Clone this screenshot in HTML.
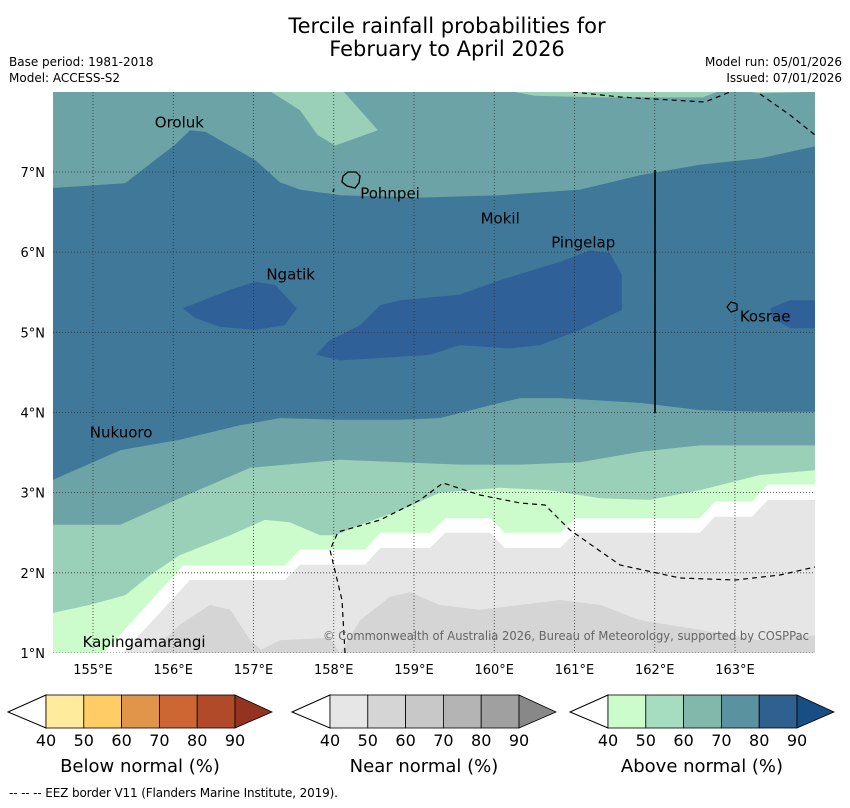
<!DOCTYPE html>
<html><head><meta charset="utf-8"><style>
body{margin:0;background:#fff;width:850px;height:804px;overflow:hidden;font-family:"DejaVu Sans","Liberation Sans",sans-serif}
svg text{font-family:"DejaVu Sans","Liberation Sans",sans-serif}
</style></head><body>
<svg id="chart" width="850" height="804" xmlns="http://www.w3.org/2000/svg">
<text x="447" y="33" font-size="21" text-anchor="middle">Tercile rainfall probabilities for</text>
<text x="447" y="56" font-size="21" text-anchor="middle">February to April 2026</text>
<text x="9" y="66" font-size="12">Base period: 1981-2018</text>
<text x="9" y="82" font-size="12">Model: ACCESS-S2</text>
<text x="842" y="66" font-size="12" text-anchor="end">Model run: 05/01/2026</text>
<text x="842" y="82" font-size="12" text-anchor="end">Issued: 07/01/2026</text>
<defs><clipPath id="mapclip"><rect x="53" y="92" width="762" height="561"/></clipPath></defs>
<g id="map" clip-path="url(#mapclip)"></g>
<g id="overlay"></g>
<g id="legend"></g>
<text x="9" y="797" font-size="12" textLength="329">--  --  -- EEZ border V11 (Flanders Marine Institute, 2019).</text>
</svg>
<script>
const lonTicks=[155,156,157,158,159,160,161,162,163];
const latTicks=[1,2,3,4,5,6,7];
const zoneNames=['above-60-70','above-50-60-top','above-70-80','above-80-90-west','above-80-90-central','above-80-90-east','above-50-60-south','above-40-50','below-40-white','near-40-50','near-50-60-west','near-50-60-mid','near-50-60-east'];
const zoneColors=['#6ba3a6','#9bd0b8','#3f7898','#2f6098','#2f6098','#2f6098','#9bd0b8','#ccfccc','#ffffff','#e6e6e6','#d5d5d5','#d5d5d5','#d5d5d5'];
const zoneBase=[[154.5,1],[164,1],[164,8],[154.5,8]];
const zoneTop=[[157.14,8.05],[157.58,7.77],[157.80,7.46],[158.02,7.33],[158.55,7.52],[158.33,7.77],[158.08,8.05],[160.0,8.05],[160.5,7.95],[161.3,7.93],[162.6,7.93],[162.9,8.05],[163.3,7.98],[164,8.0],[164,8.05]];
const zoneBlue=[[154.5,6.80],[155.40,6.86],[156.02,7.34],[156.21,7.52],[156.40,7.50],[157.02,7.15],[157.33,6.87],[157.58,6.78],[158.08,6.71],[159.07,6.68],[160.07,6.71],[161.07,6.78],[161.82,6.96],[162.56,7.09],[163.31,7.17],[164,7.32],[164,4.01],[163.31,4.01],[162.56,4.03],[161.82,4.12],[160.82,4.18],[160.32,4.18],[159.95,4.09],[159.32,3.93],[158.83,3.91],[158.08,3.91],[157.33,3.93],[156.83,3.84],[156.08,3.66],[155.34,3.53],[154.5,3.16]];
const zoneDeepW=[[156.12,5.30],[156.71,5.53],[157.02,5.63],[157.27,5.59],[157.54,5.30],[157.39,5.09],[157.02,5.03],[156.58,5.07],[156.27,5.18]];
const zoneDeepC=[[157.78,4.72],[157.95,4.90],[158.33,5.09],[158.58,5.34],[158.83,5.40],[159.57,5.47],[160.07,5.65],[160.82,5.88],[161.19,6.02],[161.44,5.99],[161.59,5.72],[161.59,5.28],[161.07,5.03],[160.57,4.84],[160.20,4.80],[159.57,4.84],[159.20,4.72],[158.58,4.68],[158.08,4.65]];
const zoneDeepE=[[163.44,5.30],[163.69,5.40],[164,5.40],[164,5.05],[163.69,5.05],[163.46,5.18]];
const zoneMid=[[154.5,2.60],[155.34,2.60],[156.08,2.93],[156.96,3.31],[158.08,3.41],[158.83,3.38],[159.57,3.35],[160.32,3.35],[161.07,3.38],[161.82,3.51],[162.56,3.59],[163.31,3.59],[164,3.59],[164,1],[154.5,1]];
const zoneLight=[[154.5,1.50],[154.96,1.60],[155.40,1.72],[155.71,1.97],[156.08,2.22],[156.71,2.47],[157.14,2.66],[157.45,2.63],[157.83,2.47],[158.02,2.47],[158.33,2.60],[158.83,2.78],[159.32,3.0],[160.07,3.06],[160.69,3.03],[161.32,2.93],[161.94,2.91],[162.56,3.03],[163.31,3.22],[164,3.28],[164,1],[154.5,1]];
const zoneWhite=[[155.13,1],[156.12,2.09],[157.39,2.09],[157.58,2.29],[158.39,2.29],[158.58,2.50],[159.20,2.50],[159.39,2.68],[159.95,2.68],[160.13,2.50],[160.82,2.50],[161.01,2.68],[162.56,2.68],[162.75,2.89],[163.21,2.89],[163.41,3.10],[164,3.10],[164,1]];
const zoneNear=[[155.37,1],[156.21,1.91],[157.39,1.91],[157.58,2.10],[158.39,2.10],[158.58,2.31],[159.20,2.31],[159.39,2.50],[159.95,2.50],[160.13,2.31],[160.82,2.31],[161.01,2.50],[162.56,2.50],[162.75,2.70],[163.21,2.70],[163.41,2.91],[164,2.91],[164,1]];
const zoneNearW=[[155.71,1],[156.08,1.35],[156.46,1.60],[156.71,1.54],[156.96,1.16],[157.14,1]];
const zoneNearM=[[157.02,1],[157.33,1.16],[157.95,1.19],[158.08,1]];
const zoneNearE=[[158.08,1],[158.33,1.41],[158.70,1.70],[158.95,1.76],[159.32,1.60],[159.82,1.54],[160.32,1.60],[160.82,1.66],[161.32,1.60],[161.82,1.41],[162.56,1.29],[163.31,1.16],[164,1.22],[164,1]];
const zones=[zoneBase,zoneTop,zoneBlue,zoneDeepW,zoneDeepC,zoneDeepE,zoneMid,zoneLight,zoneWhite,zoneNear,zoneNearW,zoneNearM,zoneNearE];
const places=['Oroluk','Pohnpei','Mokil','Pingelap','Ngatik','Kosrae','Nukuoro','Kapingamarangi'];
const placeLon=[155.77,158.33,159.83,160.71,157.16,163.06,154.96,154.87];
const placeLat=[7.62,6.73,6.42,6.12,5.72,5.20,3.75,1.14];

const NS='http://www.w3.org/2000/svg';
function xS(lon){return 93+(lon-155)*80.25;}
function yS(lat){return 653-(lat-1)*80.17;}
function mk(tag,attrs,parent){const e=document.createElementNS(NS,tag);for(const k in attrs)e.setAttribute(k,attrs[k]);parent.appendChild(e);return e;}
const map=document.getElementById('map');
zones.forEach((z,i)=>{
  const p=mk('polygon',{points:z.map(q=>xS(q[0]).toFixed(1)+','+yS(q[1]).toFixed(1)).join(' '),fill:zoneColors[i]},map);
  
  
});
lonTicks.forEach(l=>{const g=mk('line',{x1:xS(l),x2:xS(l),y1:92,y2:653,stroke:'#333','stroke-width':0.8,'stroke-dasharray':'1,2'},map);
  
  });
latTicks.forEach(l=>{const g=mk('line',{x1:53,x2:815,y1:yS(l),y2:yS(l),stroke:'#333','stroke-width':0.8,'stroke-dasharray':'1,2'},map);
  
  });
const eez=['M345,653 L342,600 L330,550 L338,532 L380,520 L420,500 L443,483 L480,495 L520,503 L545,505 L570,530 L620,565 L680,578 L735,580 L780,575 L815,567','M573,92 L620,97 L705,102 L735,90','M760,94 L790,115 L815,135'];
eez.forEach(d=>{const p=mk('path',{d:d,fill:'none',stroke:'#000','stroke-width':1.2,'stroke-dasharray':'5,4'},map);
  
  });
const vl=mk('line',{x1:655,x2:655,y1:170,y2:413,stroke:'#000','stroke-width':1.6},map);


const pi=mk('path',{d:'M343,176 L348,172 L356,172 L360,176 L359,183 L355,188 L347,186 L342,182 Z M334,189 L333,192',fill:'none',stroke:'#000','stroke-width':1.3},map);


const ki=mk('path',{d:'M727,307 L731,302 L737,304 L737,310 L731,312 Z',fill:'none',stroke:'#000','stroke-width':1.2},map);


places.forEach((n,i)=>{
  const t=mk('text',{x:xS(placeLon[i]),y:yS(placeLat[i])+5,'font-size':15,fill:'#000'},map);t.textContent=n;
  
  
});
const cp=mk('text',{x:323,y:640,'font-size':12,fill:'#666',textLength:486,lengthAdjust:'spacingAndGlyphs'},map);cp.textContent='\u00A9 Commonwealth of Australia 2026, Bureau of Meteorology, supported by COSPPac';


const ov=document.getElementById('overlay');
latTicks.forEach(l=>{const t=mk('text',{x:45,y:yS(l)+5,'font-size':13,'text-anchor':'end'},ov);t.textContent=l+'\u00B0N';
  
  });
lonTicks.forEach(l=>{const t=mk('text',{x:xS(l),y:674,'font-size':13,'text-anchor':'middle'},ov);t.textContent=l+'\u00B0E';
  
  });
const lg=document.getElementById('legend');
const cbTitles=['Below normal (%)','Near normal (%)','Above normal (%)'];
const cbColors=[['#ffeb9c','#ffcc66','#e0954a','#cc6633','#b04a28','#94331f'],['#e6e6e6','#d5d5d5','#c8c8c8','#b4b4b4','#a0a0a0','#888888'],['#ccfccc','#a6dcc0','#82b8ac','#5b929f','#30608f','#184e84']];
const cbLabels=[40,50,60,70,80,90];
const cbX=[46,330,608];
cbX.forEach((x0,k)=>{
  const g=mk('g',{},lg);
  
  
  const w=37.8;
  mk('polygon',{points:`${x0},695 ${x0-38},712 ${x0},728`,fill:'#fff',stroke:'#000','stroke-width':1},g);
  for(let i=0;i<5;i++)mk('rect',{x:x0+i*w,y:695,width:w,height:33,fill:cbColors[k][i],stroke:'#000','stroke-width':0.8},g);
  mk('polygon',{points:`${x0+5*w},695 ${x0+5*w+37},712 ${x0+5*w},728`,fill:cbColors[k][5],stroke:'#000','stroke-width':0.8},g);
  cbLabels.forEach((v,i)=>{const t=mk('text',{x:x0+i*w,y:746,'font-size':16,'text-anchor':'middle'},g);t.textContent=v;});
  const tt=mk('text',{x:x0+94,y:772,'font-size':18,'text-anchor':'middle'},g);tt.textContent=cbTitles[k];
});
</script>
</body></html>
